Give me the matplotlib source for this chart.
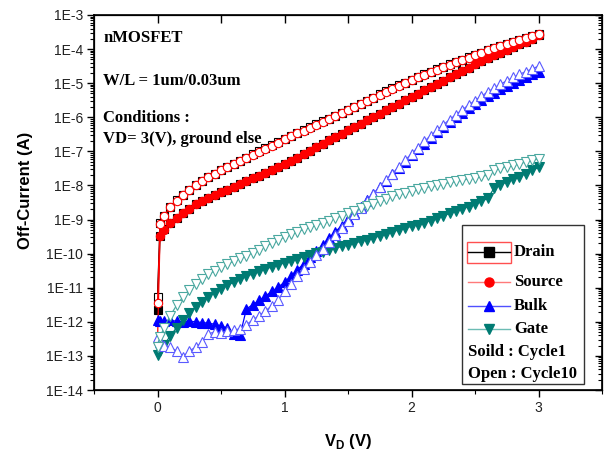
import matplotlib
matplotlib.use("Agg")
import matplotlib.pyplot as plt
from matplotlib.patches import Rectangle
from matplotlib.lines import Line2D
import numpy as np

plt.rcParams['mathtext.fontset'] = 'custom'
plt.rcParams['mathtext.rm'] = 'Liberation Sans:bold'
plt.rcParams['mathtext.bf'] = 'Liberation Sans:bold'

# ---------------- data (log10 of current in A) ----------------
vd = [0.00, 0.02, 0.05, 0.10, 0.15, 0.20, 0.25, 0.30, 0.35, 0.40, 0.45, 0.50,
      0.55, 0.60, 0.65, 0.70, 0.75, 0.80, 0.85, 0.90, 0.95, 1.00, 1.05, 1.10,
      1.15, 1.20, 1.25, 1.30, 1.35, 1.40, 1.45, 1.50, 1.55, 1.60, 1.65, 1.70,
      1.75, 1.80, 1.85, 1.90, 1.95, 2.00, 2.05, 2.10, 2.15, 2.20, 2.25, 2.30,
      2.35, 2.40, 2.45, 2.50, 2.55, 2.60, 2.65, 2.70, 2.75, 2.80, 2.85, 2.90,
      2.95, 3.00]

drain_c1 = [-11.65, -9.47, -9.29, -9.09, -8.94, -8.81, -8.69, -8.55, -8.45, -8.36, -8.28, -8.20,
            -8.12, -8.04, -7.95, -7.87, -7.79, -7.71, -7.62, -7.54, -7.45, -7.37, -7.28, -7.18,
            -7.08, -6.98, -6.88, -6.78, -6.68, -6.58, -6.48, -6.38, -6.28, -6.19, -6.09, -5.99,
            -5.89, -5.79, -5.69, -5.60, -5.50, -5.41, -5.31, -5.21, -5.12, -5.02, -4.93, -4.83,
            -4.74, -4.64, -4.55, -4.45, -4.36, -4.27, -4.18, -4.10, -4.02, -3.94, -3.86, -3.78,
            -3.70, -3.60]
source_c1 = [-12.60, -9.48, -9.30, -9.10, -8.95, -8.82, -8.70, -8.55, -8.45, -8.36, -8.28, -8.20,
             -8.12, -8.04, -7.95, -7.87, -7.79, -7.71, -7.62, -7.54, -7.45, -7.37, -7.28, -7.18,
             -7.08, -6.98, -6.88, -6.78, -6.68, -6.58, -6.48, -6.38, -6.28, -6.19, -6.09, -5.99,
             -5.89, -5.79, -5.69, -5.60, -5.50, -5.41, -5.31, -5.21, -5.12, -5.02, -4.93, -4.83,
             -4.74, -4.64, -4.55, -4.45, -4.36, -4.27, -4.18, -4.10, -4.02, -3.94, -3.86, -3.78,
             -3.70, -3.60]
bulk_c1 = [-11.95, -11.98, -11.97, -11.96, -11.98, -12.00, -11.98, -12.00, -12.02, -12.04, -12.07, -12.12,
           -12.18, -12.35, -12.40, -11.62, -11.50, -11.37, -11.24, -11.11, -10.98, -10.84, -10.66, -10.48,
           -10.30, -10.11, -9.93, -9.74, -9.55, -9.36, -9.18, -8.99, -8.80, -8.62, -8.43, -8.24,
           -8.05, -7.86, -7.67, -7.48, -7.30, -7.12, -6.94, -6.77, -6.60, -6.44, -6.29, -6.14,
           -6.00, -5.87, -5.74, -5.62, -5.50, -5.39, -5.28, -5.18, -5.08, -4.99, -4.90, -4.82,
           -4.74, -4.66]
gate_c1 = [-12.97, -12.85, -12.68, -12.42, -12.17, -11.95, -11.75, -11.57, -11.41, -11.27, -11.14, -11.03,
           -10.93, -10.84, -10.75, -10.67, -10.59, -10.52, -10.45, -10.39, -10.33, -10.27, -10.21, -10.15,
           -10.09, -10.04, -9.99, -9.94, -9.89, -9.84, -9.79, -9.74, -9.69, -9.64, -9.59, -9.54,
           -9.48, -9.42, -9.36, -9.30, -9.25, -9.20, -9.15, -9.09, -9.03, -8.96, -8.89, -8.82,
           -8.75, -8.69, -8.62, -8.55, -8.47, -8.38, -8.08, -7.98, -7.90, -7.82, -7.74, -7.65,
           -7.56, -7.47]

drain_c10 = [-11.27, -9.11, -8.89, -8.62, -8.44, -8.27, -8.12, -7.98, -7.86, -7.75, -7.65, -7.55,
             -7.45, -7.36, -7.27, -7.18, -7.09, -7.00, -6.91, -6.82, -6.73, -6.64, -6.55, -6.46,
             -6.38, -6.29, -6.21, -6.12, -6.04, -5.96, -5.87, -5.78, -5.69, -5.60, -5.51, -5.42,
             -5.33, -5.24, -5.15, -5.06, -4.98, -4.90, -4.82, -4.74, -4.66, -4.59, -4.52, -4.45,
             -4.38, -4.31, -4.24, -4.17, -4.10, -4.03, -3.97, -3.91, -3.85, -3.79, -3.73, -3.67,
             -3.61, -3.55]
source_c10 = [-11.45, -9.12, -8.90, -8.63, -8.45, -8.28, -8.13, -7.99, -7.87, -7.76, -7.66, -7.56,
              -7.46, -7.37, -7.28, -7.19, -7.10, -7.01, -6.92, -6.83, -6.74, -6.65, -6.56, -6.47,
              -6.39, -6.30, -6.22, -6.13, -6.05, -5.97, -5.88, -5.79, -5.70, -5.61, -5.52, -5.43,
              -5.34, -5.25, -5.16, -5.07, -4.99, -4.91, -4.83, -4.75, -4.67, -4.60, -4.53, -4.46,
              -4.39, -4.32, -4.25, -4.18, -4.11, -4.04, -3.98, -3.92, -3.86, -3.80, -3.74, -3.68,
              -3.62, -3.56]
bulk_c10 = [-12.45, -12.60, -12.70, -12.75, -12.85, -13.03, -12.85, -12.75, -12.60, -12.35, -12.30, -12.32,
            -12.28, -12.25, -12.20, -12.08, -11.95, -11.82, -11.68, -11.53, -11.36, -11.10, -10.88, -10.67,
            -10.46, -10.25, -10.05, -9.85, -9.65, -9.45, -9.25, -9.05, -8.85, -8.65, -8.45, -8.25,
            -8.05, -7.85, -7.65, -7.45, -7.26, -7.07, -6.89, -6.71, -6.54, -6.38, -6.22, -6.07,
            -5.92, -5.78, -5.64, -5.51, -5.38, -5.26, -5.14, -5.03, -4.93, -4.83, -4.74, -4.66,
            -4.58, -4.50]
gate_c10 = [-12.73, -12.45, -12.18, -11.82, -11.52, -11.27, -11.06, -10.89, -10.74, -10.61, -10.50, -10.40,
            -10.31, -10.22, -10.14, -10.06, -9.97, -9.88, -9.78, -9.69, -9.60, -9.51, -9.43, -9.36,
            -9.29, -9.22, -9.16, -9.10, -9.03, -8.96, -8.89, -8.82, -8.74, -8.67, -8.60, -8.53,
            -8.46, -8.39, -8.32, -8.26, -8.21, -8.16, -8.11, -8.07, -8.03, -7.99, -7.95, -7.91,
            -7.88, -7.84, -7.81, -7.77, -7.73, -7.70, -7.55, -7.50, -7.45, -7.41, -7.36, -7.31,
            -7.26, -7.22]

y_ticks_exp = [-3, -4, -5, -6, -7, -8, -9, -10, -11, -12, -13, -14]
y_tick_labels = ["1E-3", "1E-4", "1E-5", "1E-6", "1E-7", "1E-8", "1E-9",
                 "1E-10", "1E-11", "1E-12", "1E-13", "1E-14"]
x_ticks = [0, 1, 2, 3]
x_tick_labels = ["0", "1", "2", "3"]

# ---------------- figure ----------------
W, H = 612, 455
fig = plt.figure(figsize=(W / 100, H / 100), dpi=100)
L, R, T, B = 94, 602, 15, 390
ax = fig.add_axes([L / W, 1 - B / H, (R - L) / W, (B - T) / H])

RED = '#ff0000'
BLUE = '#0000ff'
TEAL = '#007b73'
TEAL_OPEN = '#4aa8a0'
BLUE_OPEN = '#5a5aff'

ms = 6.0
mew = 0.8
v = np.array(vd)

def p(vals):
    return 10.0 ** np.array(vals)

# cycle 1 (solid)
ax.plot(v, p(drain_c1), color='black', lw=0.9, marker='s', ms=ms - 0.6, mfc='black', mec='black', mew=mew, zorder=3)
ax.plot(v, p(source_c1), color=RED, lw=0.9, marker='o', ms=ms, mfc=RED, mec=RED, mew=mew, zorder=4)
ax.plot(v, p(bulk_c1), color=BLUE, lw=0.9, marker='^', ms=ms + 0.5, mfc=BLUE, mec=BLUE, mew=mew, zorder=4)
ax.plot(v, p(gate_c1), color=TEAL, lw=0.9, marker='v', ms=ms + 0.5, mfc=TEAL, mec=TEAL, mew=mew, zorder=4)
# cycle 10 (open)
ax.plot(v, p(drain_c10), color='black', lw=0.9, marker='s', ms=ms - 0.4, mfc='white', mec='black', mew=mew, zorder=3)
ax.plot(v, p(source_c10), color=RED, lw=0.9, marker='o', ms=ms, mfc='white', mec=RED, mew=mew, zorder=4)
ax.plot(v, p(bulk_c10), color=BLUE_OPEN, lw=0.9, marker='^', ms=ms + 0.6, mfc='white', mec=BLUE_OPEN, mew=mew, zorder=4)
ax.plot(v, p(gate_c10), color=TEAL_OPEN, lw=0.9, marker='v', ms=ms + 0.6, mfc='white', mec=TEAL_OPEN, mew=mew, zorder=4)

ax.set_yscale('log')
ax.set_xlim(-0.5, 3.5)
ax.set_ylim(1e-14, 1e-3)

tick_font = dict(family='Liberation Sans', size=10)
ax.set_yticks([10.0 ** e for e in y_ticks_exp])
ax.set_yticklabels(y_tick_labels, fontdict=tick_font, color='#222222')
ax.set_xticks(x_ticks)
ax.set_xticklabels(x_tick_labels, fontdict=tick_font, color='#222222')
ax.set_xticks([-0.5, 0.5, 1.5, 2.5, 3.5], minor=True)
ax.yaxis.set_minor_locator(matplotlib.ticker.LogLocator(base=10, subs=np.arange(2, 10), numticks=30))
ax.yaxis.set_minor_formatter(matplotlib.ticker.NullFormatter())
ax.tick_params(which='major', direction='out', length=5, width=1.0, pad=3, top=False, right=False)
ax.tick_params(which='minor', direction='out', length=3, width=0.8, top=False, right=False)
for s in ax.spines.values():
    s.set_linewidth(1.2)

# mirrored ticks (inward) on top and right
axt = ax.twiny()
axt.set_xlim(-0.5, 3.5)
axt.set_xticks([0, 0.5, 1, 1.5, 2, 2.5, 3])
axt.tick_params(axis='x', direction='in', length=6, width=1.0, labeltop=False)
axr = ax.twinx()
axr.set_yscale('log')
axr.set_ylim(1e-14, 1e-3)
axr.set_yticks([10.0 ** e for e in y_ticks_exp])
axr.yaxis.set_minor_locator(matplotlib.ticker.LogLocator(base=10, subs=np.arange(2, 10), numticks=30))
axr.yaxis.set_minor_formatter(matplotlib.ticker.NullFormatter())
axr.tick_params(axis='y', which='major', direction='in', length=5, width=1.0, labelright=False)
axr.tick_params(axis='y', which='minor', direction='in', length=3, width=0.8, labelright=False)
axr.set_yticklabels([])

ax.set_xlabel(r'V$_{\mathrm{D}}$ (V)', family='Liberation Sans', weight='bold', size=12)
ax.xaxis.set_label_coords(0.5, -0.112)
ax.set_ylabel('Off-Current (A)', family='Liberation Sans', weight='bold', size=12)
ax.yaxis.set_label_coords(-0.12, 0.533)

# annotations
def fx(px):
    return (px - L) / (R - L)

def fy(py):
    return (B - py) / (B - T)

serif = dict(family='Liberation Serif', weight='bold', size=12)
ax.text(fx(103), fy(42), 'nMOSFET', transform=ax.transAxes, va='baseline', **serif)
ax.text(fx(103), fy(85), 'W/L = 1um/0.03um', transform=ax.transAxes, va='baseline', **serif)
ax.text(fx(103), fy(122), 'Conditions :', transform=ax.transAxes, va='baseline', **serif)
ax.text(fx(103), fy(143), 'VD= 3(V), ground else', transform=ax.transAxes, va='baseline', **serif)

# legend (hand-built)
axl = axr
box = Rectangle((fx(462), fy(384)), fx(584) - fx(462), fy(225) - fy(384), transform=axl.transAxes,
                facecolor='white', edgecolor='#333333', lw=1.0, zorder=10)
axl.add_patch(box)
rect = Rectangle((fx(467), fy(263)), fx(511) - fx(467), fy(242) - fy(263), transform=axl.transAxes,
                 facecolor='none', edgecolor='#ff5050', lw=1.0, zorder=11)
axl.add_patch(rect)

entries = [
    ('Drain', 252, 'black', 's', 'black', 'black'),
    ('Source', 282, '#ff7a7a', 'o', RED, RED),
    ('Bulk', 306, '#5050ff', '^', BLUE, BLUE),
    ('Gate', 329, '#6cbcb4', 'v', TEAL, TEAL),
]
for name, py, lc, mk, mfc, mec in entries:
    axl.add_line(Line2D([fx(468), fx(510)], [fy(py), fy(py)], transform=axl.transAxes,
                        color=lc, lw=1.0, zorder=12))
    axl.add_line(Line2D([fx(489)], [fy(py)], transform=axl.transAxes, marker=mk, ms=6.5,
                        mfc=mfc, mec=mec, lw=0, zorder=13))
    axl.text(fx(514), fy(py), name, transform=axl.transAxes, va='center', ha='left', zorder=13, **serif)
axl.text(fx(468), fy(352), 'Soild : Cycle1', transform=axl.transAxes, va='center', ha='left', zorder=13, **serif)
axl.text(fx(468), fy(374), 'Open : Cycle10', transform=axl.transAxes, va='center', ha='left', zorder=13, **serif)

fig.savefig('out.png', dpi=100)
